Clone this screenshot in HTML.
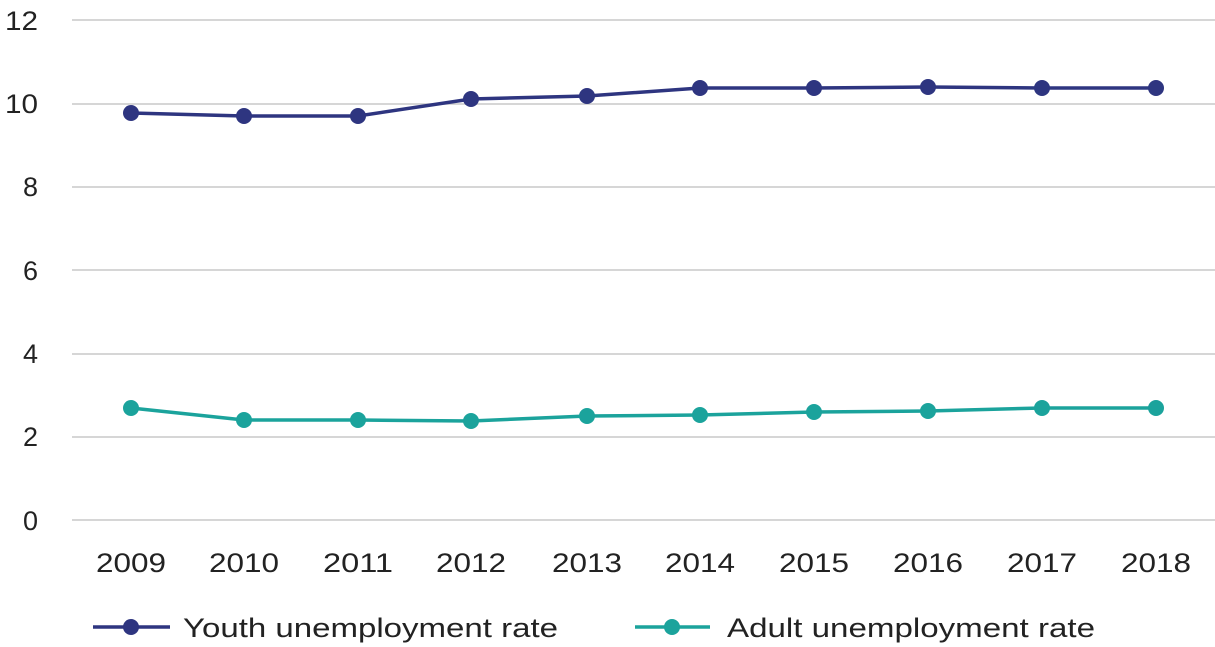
<!DOCTYPE html>
<html><head><meta charset="utf-8"><style>
html,body{margin:0;padding:0;background:#fff;}
svg{display:block;}
text{font-family:"Liberation Sans",sans-serif;font-size:27px;fill:#222;}
</style></head><body>
<svg width="1215" height="647" viewBox="0 0 1215 647">
<g stroke="#c8c8c8" stroke-width="1.5">
<line x1="72" y1="20" x2="1215" y2="20"/>
<line x1="72" y1="104" x2="1215" y2="104"/>
<line x1="72" y1="187" x2="1215" y2="187"/>
<line x1="72" y1="270" x2="1215" y2="270"/>
<line x1="72" y1="354" x2="1215" y2="354"/>
<line x1="72" y1="437" x2="1215" y2="437"/>
<line x1="72" y1="520" x2="1215" y2="520"/>
</g>
<g text-anchor="end">
<text x="38" y="30" textLength="33" lengthAdjust="spacingAndGlyphs">12</text>
<text x="38" y="113" textLength="33" lengthAdjust="spacingAndGlyphs">10</text>
<text x="38" y="196">8</text>
<text x="38" y="280">6</text>
<text x="38" y="363">4</text>
<text x="38" y="446">2</text>
<text x="38" y="530">0</text>
</g>
<g text-anchor="middle">
<text x="131" y="572" textLength="70" lengthAdjust="spacingAndGlyphs">2009</text>
<text x="244" y="572" textLength="70" lengthAdjust="spacingAndGlyphs">2010</text>
<text x="358" y="572" textLength="70" lengthAdjust="spacingAndGlyphs">2011</text>
<text x="471" y="572" textLength="70" lengthAdjust="spacingAndGlyphs">2012</text>
<text x="587" y="572" textLength="70" lengthAdjust="spacingAndGlyphs">2013</text>
<text x="700" y="572" textLength="70" lengthAdjust="spacingAndGlyphs">2014</text>
<text x="814" y="572" textLength="70" lengthAdjust="spacingAndGlyphs">2015</text>
<text x="928" y="572" textLength="70" lengthAdjust="spacingAndGlyphs">2016</text>
<text x="1042" y="572" textLength="70" lengthAdjust="spacingAndGlyphs">2017</text>
<text x="1156" y="572" textLength="70" lengthAdjust="spacingAndGlyphs">2018</text>
</g>
<polyline fill="none" stroke="#2e3580" stroke-width="3.5" points="131,113 244,116 358,116 471,99 587,96 700,88 814,88 928,87 1042,88 1156,88"/>
<g fill="#2e3580">
<circle cx="131" cy="113" r="8"/><circle cx="244" cy="116" r="8"/><circle cx="358" cy="116" r="8"/><circle cx="471" cy="99" r="8"/><circle cx="587" cy="96" r="8"/><circle cx="700" cy="88" r="8"/><circle cx="814" cy="88" r="8"/><circle cx="928" cy="87" r="8"/><circle cx="1042" cy="88" r="8"/><circle cx="1156" cy="88" r="8"/>
</g>
<polyline fill="none" stroke="#1ba39c" stroke-width="3.5" points="131,408 244,420 358,420 471,421 587,416 700,415 814,412 928,411 1042,408 1156,408"/>
<g fill="#1ba39c">
<circle cx="131" cy="408" r="8"/><circle cx="244" cy="420" r="8"/><circle cx="358" cy="420" r="8"/><circle cx="471" cy="421" r="8"/><circle cx="587" cy="416" r="8"/><circle cx="700" cy="415" r="8"/><circle cx="814" cy="412" r="8"/><circle cx="928" cy="411" r="8"/><circle cx="1042" cy="408" r="8"/><circle cx="1156" cy="408" r="8"/>
</g>
<line x1="93" y1="627" x2="170" y2="627" stroke="#2e3580" stroke-width="3.5"/>
<circle cx="131" cy="627" r="8" fill="#2e3580"/>
<text x="183" y="637" textLength="375" lengthAdjust="spacingAndGlyphs">Youth unemployment rate</text>
<line x1="635" y1="627" x2="710" y2="627" stroke="#1ba39c" stroke-width="3.5"/>
<circle cx="672" cy="627" r="8" fill="#1ba39c"/>
<text x="727" y="637" textLength="368" lengthAdjust="spacingAndGlyphs">Adult unemployment rate</text>
</svg>
</body></html>
